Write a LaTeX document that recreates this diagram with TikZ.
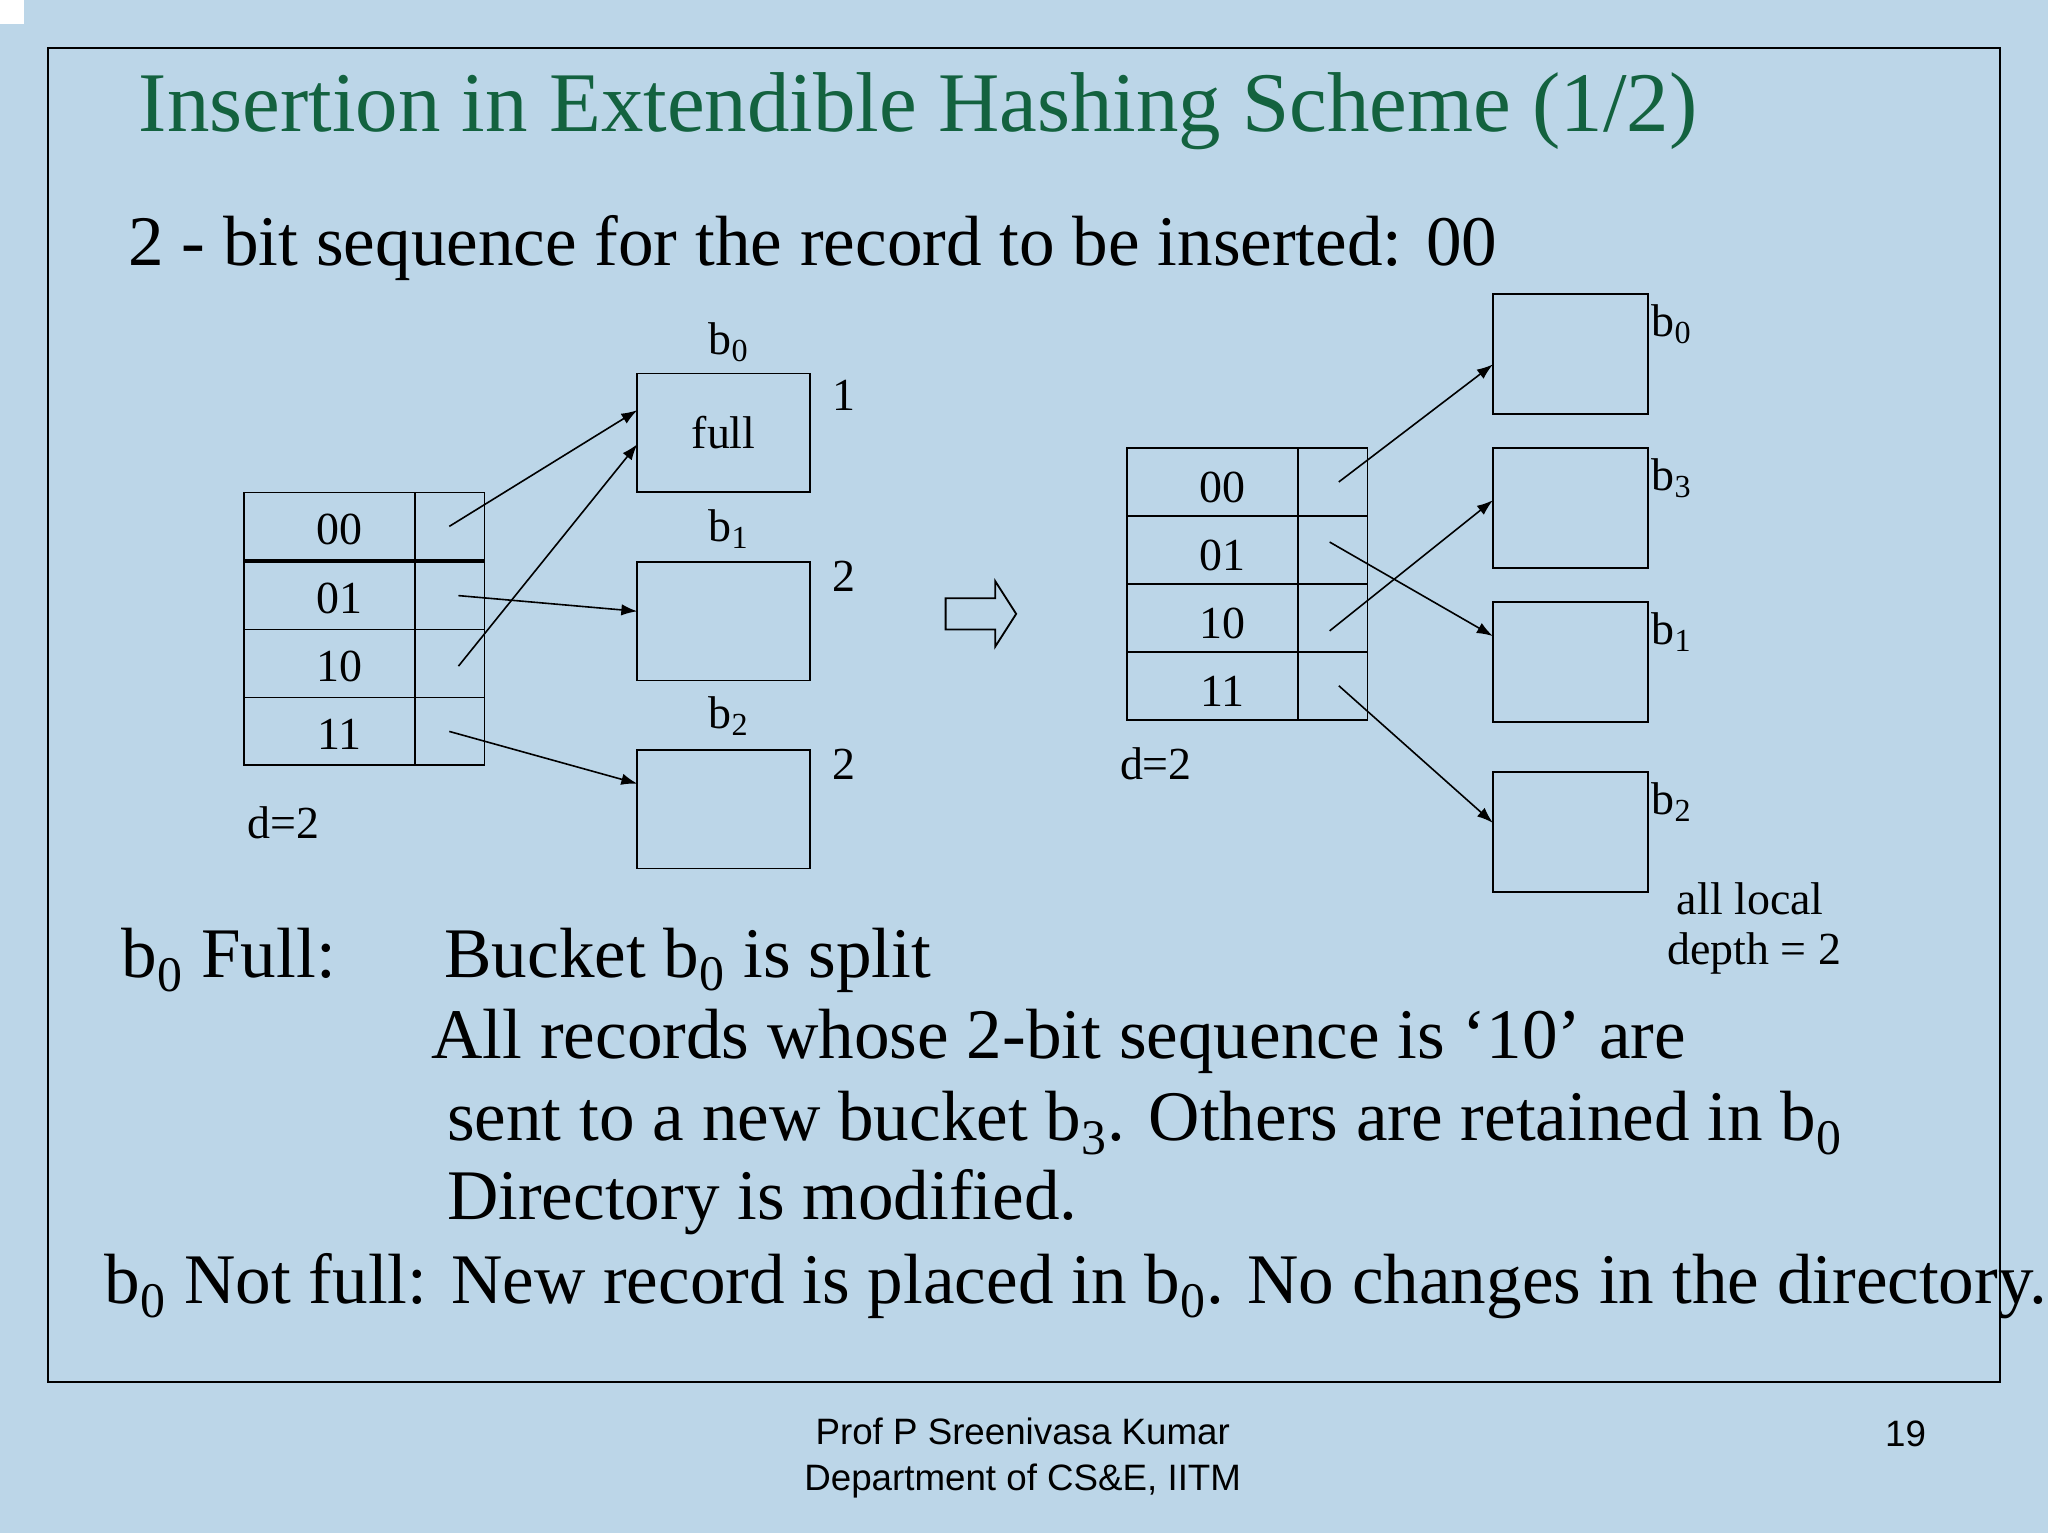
\documentclass[tikz,border=0pt]{standalone}
\usepackage{fontspec}
\setmainfont{Liberation Serif}
\newfontfamily\arial{Liberation Sans}
\usetikzlibrary{arrows.meta}
\definecolor{bg}{HTML}{BCD6E8}
\definecolor{ttl}{HTML}{13623F}
\newcommand{\sbs}[1]{\textsubscript{#1}}
\begin{document}
\begin{tikzpicture}[x=0.02cm,y=-0.02cm,
  cell/.style={draw,line width=0.8pt},
  lbl/.style={inner sep=0pt,font=\fontsize{20}{24}\selectfont},
  big/.style={inner sep=0pt,anchor=west,font=\fontsize{31}{36}\selectfont},
  arr/.style={-{Latex[length=7pt,width=5pt]},line width=0.7pt}]
\fill[bg] (0,0) rectangle (1568,1174);
\useasboundingbox (0,0) rectangle (1568,1174);
\fill[white] (0,0) rectangle (18,18);
\draw[line width=0.8pt] (37,37) rectangle (1531,1058);
\node[anchor=west,inner sep=0pt,text=ttl,font=\fontsize{37}{42}\selectfont] (title) at (106,85) {Insertion in Extendible Hashing Scheme (1/2)};
\node[big] (sub) at (98,190) {2 - bit sequence for the record to be inserted: 00};
% left directory
\foreach \y/\t [count=\i] in {377/00,430/01,482/10,534/11}{
  \draw[cell] (187,\y) rectangle (318,\y+52);
  \draw[cell] (318,\y) rectangle (371,\y+52);
  \node[lbl] (L\i) at (260,\y+28) {\t};
}
\node[lbl] (dl) at (217,630) {d=2};
\node[cell,minimum width=2.64cm,minimum height=1.82cm,inner sep=0pt,font=\fontsize{20}{24}\selectfont] (B0) at (554,331.5) {full};
\node[cell,minimum width=2.64cm,minimum height=1.82cm,inner sep=0pt] (B1) at (554,475.5) {};
\node[cell,minimum width=2.64cm,minimum height=1.82cm,inner sep=0pt] (B2) at (554,619.5) {};
\node[lbl] (lb0) at (558,262) {b\sbs{0}};
\node[lbl] (lb1) at (558,405) {b\sbs{1}};
\node[lbl] (lb2) at (558,548) {b\sbs{2}};
\node[lbl] (n0) at (646,303) {1};
\node[lbl] (n1) at (646,441) {2};
\node[lbl] (n2) at (646,585) {2};
\coordinate (s1) at (344,403); \coordinate (e1) at (488,314);
\coordinate (s2) at (351,456); \coordinate (e2) at (488,468);
\coordinate (s3) at (351,510); \coordinate (e3) at (488,340);
\coordinate (s4) at (344,560); \coordinate (e4) at (488,600);
\draw[arr] (s1)--(e1); \draw[arr] (s2)--(e2); \draw[arr] (s3)--(e3); \draw[arr] (s4)--(e4);
% block arrow
\draw[line width=0.8pt] (724,458)--(762,458)--(762,445)--(778,470)--(762,495)--(762,482)--(724,482)--cycle;
% right directory
\foreach \y/\t [count=\i] in {343/00,395/01,447/10,499/11}{
  \draw[cell] (863,\y) rectangle (994,\y+52);
  \draw[cell] (994,\y) rectangle (1047,\y+52);
  \node[lbl] (R\i) at (936,\y+30) {\t};
}
\node[lbl] (dr) at (885,585) {d=2};
\foreach \y/\n/\s in {225/C0/0,343/C3/3,461/C1/1,591/C2/2}{
  \draw[cell] (1143,\y) rectangle (1262,\y+92);
  \node[lbl] (l\n) at (1280,\y+23) {b\sbs{\s}};
}
\node[lbl] (al) at (1340,688) {all local};
\node[lbl] (dp) at (1343,730) {depth = 2};
\coordinate (t1) at (1025,369); \coordinate (f1) at (1143,279);
\coordinate (t2) at (1018,415); \coordinate (f2) at (1143,487);
\coordinate (t3) at (1018,483); \coordinate (f3) at (1143,383);
\coordinate (t4) at (1025,525); \coordinate (f4) at (1143,630);
\draw[arr] (t1)--(f1); \draw[arr] (t2)--(f2); \draw[arr] (t3)--(f3); \draw[arr] (t4)--(f4);
% text
\node[big] (x1) at (93,735) {b\sbs{0} Full:};
\node[big] (x2) at (340,735) {Bucket b\sbs{0} is split};
\node[big] (x3) at (330,797) {All records whose 2-bit sequence is ‘10’ are};
\node[big] (x4) at (342,860) {sent to a new bucket b\sbs{3}. Others are retained in b\sbs{0}};
\node[big] (x5) at (342,920) {Directory is modified.};
\node[big] (x6) at (80,985) {b\sbs{0} Not full: New record is placed in b\sbs{0}. No changes in the directory.};
\node[inner sep=0pt,font=\arial\fontsize{16}{20}\selectfont,align=center] (ft) at (783,1116) {Prof P Sreenivasa Kumar\\Department of CS\&E, IITM};
\node[inner sep=0pt,font=\arial\fontsize{16}{20}\selectfont] (pg) at (1459,1098) {19};
\end{tikzpicture}
\end{document}
